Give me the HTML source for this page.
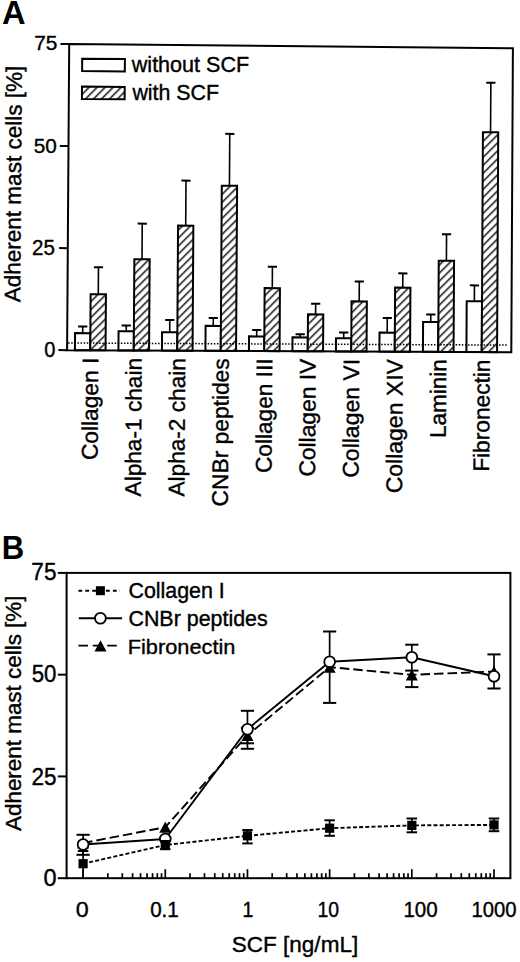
<!DOCTYPE html><html><head><meta charset="utf-8"><style>html,body{margin:0;padding:0;background:#fff;}svg{display:block;}text{font-family:"Liberation Sans",sans-serif;fill:#000;}</style></head><body>
<svg width="520" height="962" viewBox="0 0 520 962">
<defs><pattern id="h" patternUnits="userSpaceOnUse" width="8" height="8" patternTransform="translate(0.3 0.2)"><rect width="8" height="8" fill="#fff"/><path d="M-2,10 L10,-2 M-2,2 L2,-2 M6,10 L10,6" stroke="#000" stroke-width="1.4"/></pattern><clipPath id="cb"><rect x="66" y="572" width="445" height="306.2"/></clipPath></defs>
<rect width="520" height="962" fill="#fff"/>
<text transform="translate(2.124 24.410) scale(1.6321 1.6233)" font-size="20.0" font-weight="bold">A</text>
<g transform="matrix(1.00095 0.00536 -0.00704 1.00071 20.181 302.347)"><text transform="rotate(-90)" font-size="22.5" textLength="236.5" lengthAdjust="spacingAndGlyphs" stroke="#000" stroke-width="0.38">Adherent mast cells [%]</text></g>
<line x1="82.71" y1="333.10" x2="82.75" y2="326.40" stroke="#000" stroke-width="1.6" />
<line x1="78.15" y1="326.38" x2="87.36" y2="326.42" stroke="#000" stroke-width="2.0" />
<polygon points="75.05,333.06 90.36,333.14 90.25,350.25 74.93,350.18" fill="#fff" stroke="#000" stroke-width="2" stroke-linejoin="miter"/>
<line x1="98.28" y1="294.20" x2="98.47" y2="267.30" stroke="#000" stroke-width="1.6" />
<line x1="93.86" y1="267.27" x2="103.07" y2="267.33" stroke="#000" stroke-width="2.0" />
<polygon points="90.63,294.16 105.94,294.24 105.56,350.32 90.25,350.25" fill="url(#h)" stroke="#000" stroke-width="2" stroke-linejoin="miter"/>
<line x1="126.22" y1="331.30" x2="126.25" y2="325.50" stroke="#000" stroke-width="1.6" />
<line x1="121.65" y1="325.48" x2="130.86" y2="325.52" stroke="#000" stroke-width="2.0" />
<polygon points="118.56,331.26 133.87,331.34 133.75,350.45 118.43,350.38" fill="#fff" stroke="#000" stroke-width="2" stroke-linejoin="miter"/>
<line x1="142.01" y1="259.30" x2="142.24" y2="223.60" stroke="#000" stroke-width="1.6" />
<line x1="137.64" y1="223.57" x2="146.85" y2="223.63" stroke="#000" stroke-width="2.0" />
<polygon points="134.35,259.25 149.66,259.35 149.06,350.52 133.75,350.45" fill="url(#h)" stroke="#000" stroke-width="2" stroke-linejoin="miter"/>
<line x1="169.71" y1="332.30" x2="169.79" y2="320.00" stroke="#000" stroke-width="1.6" />
<line x1="165.18" y1="319.98" x2="174.39" y2="320.02" stroke="#000" stroke-width="2.0" />
<polygon points="162.05,332.26 177.36,332.34 177.25,350.65 161.93,350.58" fill="#fff" stroke="#000" stroke-width="2" stroke-linejoin="miter"/>
<line x1="185.71" y1="225.60" x2="186.00" y2="180.60" stroke="#000" stroke-width="1.6" />
<line x1="181.40" y1="180.57" x2="190.60" y2="180.63" stroke="#000" stroke-width="2.0" />
<polygon points="178.05,225.55 193.36,225.65 192.56,350.72 177.25,350.65" fill="url(#h)" stroke="#000" stroke-width="2" stroke-linejoin="miter"/>
<line x1="213.24" y1="325.90" x2="213.29" y2="318.10" stroke="#000" stroke-width="1.6" />
<line x1="208.69" y1="318.08" x2="217.90" y2="318.12" stroke="#000" stroke-width="2.0" />
<polygon points="205.59,325.86 220.90,325.94 220.74,350.85 205.43,350.78" fill="#fff" stroke="#000" stroke-width="2" stroke-linejoin="miter"/>
<line x1="229.44" y1="185.70" x2="229.77" y2="133.90" stroke="#000" stroke-width="1.6" />
<line x1="225.17" y1="133.86" x2="234.37" y2="133.94" stroke="#000" stroke-width="2.0" />
<polygon points="221.79,185.65 237.10,185.75 236.06,350.92 220.74,350.85" fill="url(#h)" stroke="#000" stroke-width="2" stroke-linejoin="miter"/>
<line x1="256.68" y1="336.40" x2="256.71" y2="330.00" stroke="#000" stroke-width="1.6" />
<line x1="252.11" y1="329.98" x2="261.32" y2="330.02" stroke="#000" stroke-width="2.0" />
<polygon points="249.02,336.36 264.33,336.44 264.24,351.05 248.93,350.98" fill="#fff" stroke="#000" stroke-width="2" stroke-linejoin="miter"/>
<line x1="272.29" y1="288.10" x2="272.42" y2="266.80" stroke="#000" stroke-width="1.6" />
<line x1="267.81" y1="266.77" x2="277.02" y2="266.83" stroke="#000" stroke-width="2.0" />
<polygon points="264.63,288.06 279.94,288.14 279.56,351.13 264.24,351.05" fill="url(#h)" stroke="#000" stroke-width="2" stroke-linejoin="miter"/>
<line x1="300.17" y1="337.40" x2="300.19" y2="334.30" stroke="#000" stroke-width="1.6" />
<line x1="295.58" y1="334.28" x2="304.79" y2="334.32" stroke="#000" stroke-width="2.0" />
<polygon points="292.51,337.36 307.83,337.44 307.74,351.26 292.43,351.18" fill="#fff" stroke="#000" stroke-width="2" stroke-linejoin="miter"/>
<line x1="315.62" y1="314.40" x2="315.69" y2="303.70" stroke="#000" stroke-width="1.6" />
<line x1="311.08" y1="303.68" x2="320.29" y2="303.72" stroke="#000" stroke-width="2.0" />
<polygon points="307.96,314.36 323.28,314.44 323.06,351.33 307.74,351.26" fill="url(#h)" stroke="#000" stroke-width="2" stroke-linejoin="miter"/>
<line x1="343.66" y1="338.30" x2="343.69" y2="332.60" stroke="#000" stroke-width="1.6" />
<line x1="339.09" y1="332.58" x2="348.30" y2="332.62" stroke="#000" stroke-width="2.0" />
<polygon points="336.00,338.26 351.32,338.34 351.24,351.46 335.92,351.39" fill="#fff" stroke="#000" stroke-width="2" stroke-linejoin="miter"/>
<line x1="359.19" y1="301.40" x2="359.31" y2="281.50" stroke="#000" stroke-width="1.6" />
<line x1="354.70" y1="281.47" x2="363.91" y2="281.53" stroke="#000" stroke-width="2.0" />
<polygon points="351.53,301.36 366.85,301.44 366.56,351.53 351.24,351.46" fill="url(#h)" stroke="#000" stroke-width="2" stroke-linejoin="miter"/>
<line x1="387.19" y1="332.60" x2="387.27" y2="317.90" stroke="#000" stroke-width="1.6" />
<line x1="382.67" y1="317.88" x2="391.88" y2="317.92" stroke="#000" stroke-width="2.0" />
<polygon points="379.53,332.56 394.85,332.64 394.74,351.66 379.42,351.59" fill="#fff" stroke="#000" stroke-width="2" stroke-linejoin="miter"/>
<line x1="402.76" y1="287.60" x2="402.84" y2="273.40" stroke="#000" stroke-width="1.6" />
<line x1="398.24" y1="273.37" x2="407.45" y2="273.43" stroke="#000" stroke-width="2.0" />
<polygon points="395.10,287.56 410.42,287.64 410.06,351.73 394.74,351.66" fill="url(#h)" stroke="#000" stroke-width="2" stroke-linejoin="miter"/>
<line x1="430.75" y1="322.00" x2="430.79" y2="314.50" stroke="#000" stroke-width="1.6" />
<line x1="426.18" y1="314.48" x2="435.39" y2="314.52" stroke="#000" stroke-width="2.0" />
<polygon points="423.09,321.96 438.40,322.04 438.24,351.86 422.92,351.79" fill="#fff" stroke="#000" stroke-width="2" stroke-linejoin="miter"/>
<line x1="446.40" y1="260.80" x2="446.55" y2="234.20" stroke="#000" stroke-width="1.6" />
<line x1="441.94" y1="234.17" x2="451.15" y2="234.23" stroke="#000" stroke-width="2.0" />
<polygon points="438.74,260.75 454.06,260.85 453.56,351.93 438.24,351.86" fill="url(#h)" stroke="#000" stroke-width="2" stroke-linejoin="miter"/>
<line x1="474.35" y1="301.20" x2="474.44" y2="285.40" stroke="#000" stroke-width="1.6" />
<line x1="469.84" y1="285.37" x2="479.04" y2="285.43" stroke="#000" stroke-width="2.0" />
<polygon points="466.70,301.16 482.01,301.24 481.74,352.06 466.42,351.99" fill="#fff" stroke="#000" stroke-width="2" stroke-linejoin="miter"/>
<line x1="490.57" y1="132.30" x2="490.84" y2="82.70" stroke="#000" stroke-width="1.6" />
<line x1="486.24" y1="82.66" x2="495.44" y2="82.74" stroke="#000" stroke-width="2.0" />
<polygon points="482.92,132.24 498.22,132.36 497.06,352.13 481.74,352.06" fill="url(#h)" stroke="#000" stroke-width="2" stroke-linejoin="miter"/>
<line x1="68.15" y1="343.00" x2="508.23" y2="345.09" stroke="#000" stroke-width="1.5" stroke-dasharray="1.5 1.6"/>
<polygon points="69.20,44.10 512.90,48.20 511.30,352.20 67.10,350.14" fill="none" stroke="#000" stroke-width="2"/>
<line x1="60.50" y1="44.02" x2="69.20" y2="44.10" stroke="#000" stroke-width="2" />
<text transform="translate(34.195 50.310) scale(1.0428 1.0269)" font-size="20.0" stroke="#000" stroke-width="0.367">75</text>
<line x1="59.80" y1="146.05" x2="68.50" y2="146.11" stroke="#000" stroke-width="2" />
<text transform="translate(33.660 152.510) scale(1.0373 1.0409)" font-size="20.0" stroke="#000" stroke-width="0.366">50</text>
<line x1="59.09" y1="248.07" x2="67.80" y2="248.13" stroke="#000" stroke-width="2" />
<text transform="translate(32.060 254.810) scale(1.0304 1.0624)" font-size="20.0" stroke="#000" stroke-width="0.363">25</text>
<line x1="58.39" y1="350.10" x2="67.10" y2="350.14" stroke="#000" stroke-width="2" />
<text transform="translate(44.288 357.310) scale(1.0021 1.0588)" font-size="20.0" stroke="#000" stroke-width="0.369">0</text>
<polygon points="82.20,58.72 124.90,59.10 124.82,71.49 82.12,71.12" fill="#fff" stroke="#000" stroke-width="2"/>
<polygon points="82.01,86.51 124.72,86.88 124.64,99.27 81.93,98.91" fill="url(#h)" stroke="#000" stroke-width="2"/>
<text transform="translate(131.790 72.410) scale(1.0779 1.0703)" font-size="20.0" stroke="#000" stroke-width="0.354">without SCF</text>
<text transform="translate(132.390 100.410) scale(1.0687 1.0772)" font-size="20.0" stroke="#000" stroke-width="0.354">with SCF</text>
<g transform="matrix(1.00115 0.00453 -0.00675 0.99953 98.206 357.741)"><text transform="rotate(-90)" font-size="22.6" text-anchor="end" textLength="102.37" lengthAdjust="spacingAndGlyphs" stroke="#000" stroke-width="0.38">Collagen I</text></g>
<g transform="matrix(1.00115 0.00453 -0.00659 0.99888 141.707 357.938)"><text transform="rotate(-90)" font-size="22.6" text-anchor="end" textLength="138.71" lengthAdjust="spacingAndGlyphs" stroke="#000" stroke-width="0.38">Alpha-1 chain</text></g>
<g transform="matrix(1.00115 0.00453 -0.00643 0.99823 185.207 358.135)"><text transform="rotate(-90)" font-size="22.6" text-anchor="end" textLength="138.71" lengthAdjust="spacingAndGlyphs" stroke="#000" stroke-width="0.38">Alpha-2 chain</text></g>
<g transform="matrix(1.00115 0.00453 -0.00627 0.99757 228.707 358.332)"><text transform="rotate(-90)" font-size="22.6" text-anchor="end" textLength="148.47" lengthAdjust="spacingAndGlyphs" stroke="#000" stroke-width="0.38">CNBr peptides</text></g>
<g transform="matrix(1.00115 0.00453 -0.00611 0.99692 272.207 358.528)"><text transform="rotate(-90)" font-size="22.6" text-anchor="end" textLength="114.83" lengthAdjust="spacingAndGlyphs" stroke="#000" stroke-width="0.38">Collagen III</text></g>
<g transform="matrix(1.00115 0.00453 -0.00595 0.99627 315.707 358.725)"><text transform="rotate(-90)" font-size="22.6" text-anchor="end" textLength="118.34" lengthAdjust="spacingAndGlyphs" stroke="#000" stroke-width="0.38">Collagen IV</text></g>
<g transform="matrix(1.00115 0.00453 -0.00579 0.99562 359.207 358.922)"><text transform="rotate(-90)" font-size="22.6" text-anchor="end" textLength="119.34" lengthAdjust="spacingAndGlyphs" stroke="#000" stroke-width="0.38">Collagen VI</text></g>
<g transform="matrix(1.00115 0.00453 -0.00563 0.99496 402.707 359.119)"><text transform="rotate(-90)" font-size="22.6" text-anchor="end" textLength="134.92" lengthAdjust="spacingAndGlyphs" stroke="#000" stroke-width="0.38">Collagen XIV</text></g>
<g transform="matrix(1.00115 0.00453 -0.00547 0.99431 446.208 359.316)"><text transform="rotate(-90)" font-size="22.6" text-anchor="end" textLength="79.15" lengthAdjust="spacingAndGlyphs" stroke="#000" stroke-width="0.38">Laminin</text></g>
<g transform="matrix(1.00115 0.00453 -0.00531 0.99366 489.708 359.513)"><text transform="rotate(-90)" font-size="22.6" text-anchor="end" textLength="113.00" lengthAdjust="spacingAndGlyphs" stroke="#000" stroke-width="0.38">Fibronectin</text></g>
<text transform="translate(1.841 559.210) scale(1.5549 1.6560)" font-size="20.0" font-weight="bold">B</text>
<text transform="translate(20.6 831) rotate(-90)" font-size="22.5" textLength="235.5" lengthAdjust="spacingAndGlyphs" stroke="#000" stroke-width="0.38">Adherent mast cells [%]</text>
<rect x="66.6" y="572.9" width="443.79999999999995" height="305.30000000000007" fill="none" stroke="#000" stroke-width="2"/>
<line x1="57.8" y1="572.90" x2="66.6" y2="572.90" stroke="#000" stroke-width="2"/>
<text transform="translate(31.355 580.410) scale(1.1287 1.1869)" font-size="20.0" stroke="#000" stroke-width="0.328">75</text>
<line x1="57.8" y1="674.67" x2="66.6" y2="674.67" stroke="#000" stroke-width="2"/>
<text transform="translate(31.650 682.310) scale(1.1123 1.1699)" font-size="20.0" stroke="#000" stroke-width="0.333">50</text>
<line x1="57.8" y1="776.43" x2="66.6" y2="776.43" stroke="#000" stroke-width="2"/>
<text transform="translate(31.414 784.710) scale(1.1260 1.1986)" font-size="20.0" stroke="#000" stroke-width="0.327">25</text>
<line x1="57.8" y1="878.20" x2="66.6" y2="878.20" stroke="#000" stroke-width="2"/>
<text transform="translate(43.450 885.810) scale(1.1749 1.1771)" font-size="20.0" stroke="#000" stroke-width="0.323">0</text>
<line x1="107.84" y1="878.2" x2="107.84" y2="873.20" stroke="#000" stroke-width="1.7"/>
<line x1="122.31" y1="878.2" x2="122.31" y2="873.20" stroke="#000" stroke-width="1.7"/>
<line x1="132.58" y1="878.2" x2="132.58" y2="873.20" stroke="#000" stroke-width="1.7"/>
<line x1="140.54" y1="878.2" x2="140.54" y2="873.20" stroke="#000" stroke-width="1.7"/>
<line x1="147.05" y1="878.2" x2="147.05" y2="873.20" stroke="#000" stroke-width="1.7"/>
<line x1="152.55" y1="878.2" x2="152.55" y2="873.20" stroke="#000" stroke-width="1.7"/>
<line x1="157.32" y1="878.2" x2="157.32" y2="873.20" stroke="#000" stroke-width="1.7"/>
<line x1="161.52" y1="878.2" x2="161.52" y2="873.20" stroke="#000" stroke-width="1.7"/>
<line x1="190.02" y1="878.2" x2="190.02" y2="873.20" stroke="#000" stroke-width="1.7"/>
<line x1="204.49" y1="878.2" x2="204.49" y2="873.20" stroke="#000" stroke-width="1.7"/>
<line x1="214.76" y1="878.2" x2="214.76" y2="873.20" stroke="#000" stroke-width="1.7"/>
<line x1="222.72" y1="878.2" x2="222.72" y2="873.20" stroke="#000" stroke-width="1.7"/>
<line x1="229.23" y1="878.2" x2="229.23" y2="873.20" stroke="#000" stroke-width="1.7"/>
<line x1="234.73" y1="878.2" x2="234.73" y2="873.20" stroke="#000" stroke-width="1.7"/>
<line x1="239.50" y1="878.2" x2="239.50" y2="873.20" stroke="#000" stroke-width="1.7"/>
<line x1="243.70" y1="878.2" x2="243.70" y2="873.20" stroke="#000" stroke-width="1.7"/>
<line x1="272.20" y1="878.2" x2="272.20" y2="873.20" stroke="#000" stroke-width="1.7"/>
<line x1="286.67" y1="878.2" x2="286.67" y2="873.20" stroke="#000" stroke-width="1.7"/>
<line x1="296.94" y1="878.2" x2="296.94" y2="873.20" stroke="#000" stroke-width="1.7"/>
<line x1="304.90" y1="878.2" x2="304.90" y2="873.20" stroke="#000" stroke-width="1.7"/>
<line x1="311.41" y1="878.2" x2="311.41" y2="873.20" stroke="#000" stroke-width="1.7"/>
<line x1="316.91" y1="878.2" x2="316.91" y2="873.20" stroke="#000" stroke-width="1.7"/>
<line x1="321.68" y1="878.2" x2="321.68" y2="873.20" stroke="#000" stroke-width="1.7"/>
<line x1="325.88" y1="878.2" x2="325.88" y2="873.20" stroke="#000" stroke-width="1.7"/>
<line x1="354.38" y1="878.2" x2="354.38" y2="873.20" stroke="#000" stroke-width="1.7"/>
<line x1="368.85" y1="878.2" x2="368.85" y2="873.20" stroke="#000" stroke-width="1.7"/>
<line x1="379.12" y1="878.2" x2="379.12" y2="873.20" stroke="#000" stroke-width="1.7"/>
<line x1="387.08" y1="878.2" x2="387.08" y2="873.20" stroke="#000" stroke-width="1.7"/>
<line x1="393.59" y1="878.2" x2="393.59" y2="873.20" stroke="#000" stroke-width="1.7"/>
<line x1="399.09" y1="878.2" x2="399.09" y2="873.20" stroke="#000" stroke-width="1.7"/>
<line x1="403.86" y1="878.2" x2="403.86" y2="873.20" stroke="#000" stroke-width="1.7"/>
<line x1="408.06" y1="878.2" x2="408.06" y2="873.20" stroke="#000" stroke-width="1.7"/>
<line x1="436.56" y1="878.2" x2="436.56" y2="873.20" stroke="#000" stroke-width="1.7"/>
<line x1="451.03" y1="878.2" x2="451.03" y2="873.20" stroke="#000" stroke-width="1.7"/>
<line x1="461.30" y1="878.2" x2="461.30" y2="873.20" stroke="#000" stroke-width="1.7"/>
<line x1="469.26" y1="878.2" x2="469.26" y2="873.20" stroke="#000" stroke-width="1.7"/>
<line x1="475.77" y1="878.2" x2="475.77" y2="873.20" stroke="#000" stroke-width="1.7"/>
<line x1="481.27" y1="878.2" x2="481.27" y2="873.20" stroke="#000" stroke-width="1.7"/>
<line x1="486.04" y1="878.2" x2="486.04" y2="873.20" stroke="#000" stroke-width="1.7"/>
<line x1="490.24" y1="878.2" x2="490.24" y2="873.20" stroke="#000" stroke-width="1.7"/>
<line x1="83.10" y1="878.2" x2="83.10" y2="869.20" stroke="#000" stroke-width="1.7"/>
<text transform="translate(75.758 917.010) scale(1.1644 1.0695)" font-size="20.0" stroke="#000" stroke-width="0.340">0</text>
<line x1="165.28" y1="878.2" x2="165.28" y2="869.20" stroke="#000" stroke-width="1.7"/>
<text transform="translate(150.166 917.010) scale(1.0296 1.0695)" font-size="20.0" stroke="#000" stroke-width="0.362">0.1</text>
<line x1="247.46" y1="878.2" x2="247.46" y2="869.20" stroke="#000" stroke-width="1.7"/>
<text transform="translate(242.530 917.210) scale(0.9734 1.1287)" font-size="20.0" stroke="#000" stroke-width="0.362">1</text>
<line x1="329.64" y1="878.2" x2="329.64" y2="869.20" stroke="#000" stroke-width="1.7"/>
<text transform="translate(317.537 917.210) scale(0.9684 1.0982)" font-size="20.0" stroke="#000" stroke-width="0.368">10</text>
<line x1="411.82" y1="878.2" x2="411.82" y2="869.20" stroke="#000" stroke-width="1.7"/>
<text transform="translate(403.450 917.210) scale(1.0264 1.0982)" font-size="20.0" stroke="#000" stroke-width="0.358">100</text>
<line x1="494.00" y1="878.2" x2="494.00" y2="869.20" stroke="#000" stroke-width="1.7"/>
<text transform="translate(471.572 917.210) scale(1.0123 1.0982)" font-size="20.0" stroke="#000" stroke-width="0.360">1000</text>
<text transform="translate(231.675 952.470) scale(1.1280 1.1297)" font-size="20.0" stroke="#000" stroke-width="0.337">SCF [ng/mL]</text>
<polyline points="83.10,843.0 165.28,827.2 247.46,735.4 329.64,667.1 411.82,674.8 494.00,671.5" fill="none" stroke="#000" stroke-width="1.9" stroke-linejoin="round" stroke-dasharray="9.5 4"/>
<line x1="247.46" y1="727.9" x2="247.46" y2="743.3" stroke="#000" stroke-width="1.7" clip-path="url(#cb)"/>
<line x1="240.86" y1="727.9" x2="254.06" y2="727.9" stroke="#000" stroke-width="2"/>
<line x1="240.86" y1="743.3" x2="254.06" y2="743.3" stroke="#000" stroke-width="2"/>
<line x1="329.64" y1="631.5" x2="329.64" y2="702.9" stroke="#000" stroke-width="1.7" clip-path="url(#cb)"/>
<line x1="323.04" y1="631.5" x2="336.24" y2="631.5" stroke="#000" stroke-width="2"/>
<line x1="323.04" y1="702.9" x2="336.24" y2="702.9" stroke="#000" stroke-width="2"/>
<line x1="411.82" y1="675" x2="411.82" y2="687.1" stroke="#000" stroke-width="1.7" clip-path="url(#cb)"/>
<line x1="405.22" y1="687.1" x2="418.42" y2="687.1" stroke="#000" stroke-width="2"/>
<line x1="494.00" y1="654.4" x2="494.00" y2="688.5" stroke="#000" stroke-width="1.7" clip-path="url(#cb)"/>
<line x1="487.40" y1="654.4" x2="500.60" y2="654.4" stroke="#000" stroke-width="2"/>
<line x1="487.40" y1="688.5" x2="500.60" y2="688.5" stroke="#000" stroke-width="2"/>
<path d="M83.10,837.40 L89.10,848.60 L77.10,848.60 Z" fill="#000"/>
<path d="M165.28,821.60 L171.28,832.80 L159.28,832.80 Z" fill="#000"/>
<path d="M247.46,729.80 L253.46,741.00 L241.46,741.00 Z" fill="#000"/>
<path d="M329.64,661.50 L335.64,672.70 L323.64,672.70 Z" fill="#000"/>
<path d="M411.82,669.20 L417.82,680.40 L405.82,680.40 Z" fill="#000"/>
<path d="M494.00,665.90 L500.00,677.10 L488.00,677.10 Z" fill="#000"/>
<polyline points="83.10,844.5 165.28,839.0 247.46,729.2 329.64,661.8 411.82,657.3 494.00,676.3" fill="none" stroke="#000" stroke-width="1.9" stroke-linejoin="round" />
<line x1="83.10" y1="834.8" x2="83.10" y2="854.8" stroke="#000" stroke-width="1.7" clip-path="url(#cb)"/>
<line x1="76.50" y1="834.8" x2="89.70" y2="834.8" stroke="#000" stroke-width="2"/>
<line x1="76.50" y1="854.8" x2="89.70" y2="854.8" stroke="#000" stroke-width="2"/>
<line x1="247.46" y1="710.8" x2="247.46" y2="748.8" stroke="#000" stroke-width="1.7" clip-path="url(#cb)"/>
<line x1="240.86" y1="710.8" x2="254.06" y2="710.8" stroke="#000" stroke-width="2"/>
<line x1="240.86" y1="748.8" x2="254.06" y2="748.8" stroke="#000" stroke-width="2"/>
<line x1="411.82" y1="644.7" x2="411.82" y2="670.6" stroke="#000" stroke-width="1.7" clip-path="url(#cb)"/>
<line x1="405.22" y1="644.7" x2="418.42" y2="644.7" stroke="#000" stroke-width="2"/>
<line x1="405.22" y1="670.6" x2="418.42" y2="670.6" stroke="#000" stroke-width="2"/>
<circle cx="83.10" cy="844.5" r="5.4" fill="#fff" stroke="#000" stroke-width="1.8"/>
<circle cx="165.28" cy="839.0" r="5.4" fill="#fff" stroke="#000" stroke-width="1.8"/>
<circle cx="247.46" cy="729.2" r="5.4" fill="#fff" stroke="#000" stroke-width="1.8"/>
<circle cx="329.64" cy="661.8" r="5.4" fill="#fff" stroke="#000" stroke-width="1.8"/>
<circle cx="411.82" cy="657.3" r="5.4" fill="#fff" stroke="#000" stroke-width="1.8"/>
<circle cx="494.00" cy="676.3" r="5.4" fill="#fff" stroke="#000" stroke-width="1.8"/>
<polyline points="83.10,863.7 165.28,845.0 247.46,835.8 329.64,828.2 411.82,825.4 494.00,824.9" fill="none" stroke="#000" stroke-width="1.9" stroke-linejoin="round" stroke-dasharray="4 2.2"/>
<line x1="83.10" y1="851" x2="83.10" y2="880" stroke="#000" stroke-width="1.7" clip-path="url(#cb)"/>
<line x1="77.85" y1="851" x2="88.35" y2="851" stroke="#000" stroke-width="2"/>
<line x1="165.28" y1="841" x2="165.28" y2="849.2" stroke="#000" stroke-width="1.7" clip-path="url(#cb)"/>
<line x1="160.03" y1="841" x2="170.53" y2="841" stroke="#000" stroke-width="2"/>
<line x1="160.03" y1="849.2" x2="170.53" y2="849.2" stroke="#000" stroke-width="2"/>
<line x1="247.46" y1="830" x2="247.46" y2="843.4" stroke="#000" stroke-width="1.7" clip-path="url(#cb)"/>
<line x1="242.21" y1="830" x2="252.71" y2="830" stroke="#000" stroke-width="2"/>
<line x1="242.21" y1="843.4" x2="252.71" y2="843.4" stroke="#000" stroke-width="2"/>
<line x1="329.64" y1="820.3" x2="329.64" y2="835.8" stroke="#000" stroke-width="1.7" clip-path="url(#cb)"/>
<line x1="324.39" y1="820.3" x2="334.89" y2="820.3" stroke="#000" stroke-width="2"/>
<line x1="324.39" y1="835.8" x2="334.89" y2="835.8" stroke="#000" stroke-width="2"/>
<line x1="411.82" y1="818.5" x2="411.82" y2="832.3" stroke="#000" stroke-width="1.7" clip-path="url(#cb)"/>
<line x1="406.57" y1="818.5" x2="417.07" y2="818.5" stroke="#000" stroke-width="2"/>
<line x1="406.57" y1="832.3" x2="417.07" y2="832.3" stroke="#000" stroke-width="2"/>
<line x1="494.00" y1="818.5" x2="494.00" y2="831.2" stroke="#000" stroke-width="1.7" clip-path="url(#cb)"/>
<line x1="488.75" y1="818.5" x2="499.25" y2="818.5" stroke="#000" stroke-width="2"/>
<line x1="488.75" y1="831.2" x2="499.25" y2="831.2" stroke="#000" stroke-width="2"/>
<rect x="78.50" y="859.10" width="9.2" height="9.2" fill="#000"/>
<rect x="160.68" y="840.40" width="9.2" height="9.2" fill="#000"/>
<rect x="242.86" y="831.20" width="9.2" height="9.2" fill="#000"/>
<rect x="325.04" y="823.60" width="9.2" height="9.2" fill="#000"/>
<rect x="407.22" y="820.80" width="9.2" height="9.2" fill="#000"/>
<rect x="489.40" y="820.30" width="9.2" height="9.2" fill="#000"/>
<line x1="78.4" y1="590.8" x2="120" y2="590.8" stroke="#000" stroke-width="1.9" stroke-dasharray="3.8 3.1"/>
<rect x="95.90" y="586.20" width="9.0" height="9.0" fill="#000"/>
<line x1="78.8" y1="618.2" x2="122.1" y2="618.2" stroke="#000" stroke-width="1.9"/>
<circle cx="100.40" cy="618.3" r="5.4" fill="#fff" stroke="#000" stroke-width="1.8"/>
<line x1="78.4" y1="645.6" x2="118" y2="645.6" stroke="#000" stroke-width="1.9" stroke-dasharray="9.6 4.8"/>
<path d="M100.50,640.30 L106.50,651.50 L94.50,651.50 Z" fill="#000"/>
<text transform="translate(128.419 598.370) scale(1.0713 1.0883)" font-size="20.0" stroke="#000" stroke-width="0.352">Collagen I</text>
<text transform="translate(128.419 626.170) scale(1.0714 1.0607)" font-size="20.0" stroke="#000" stroke-width="0.356">CNBr peptides</text>
<text transform="translate(127.693 653.810) scale(1.0893 1.0359)" font-size="20.0" stroke="#000" stroke-width="0.358">Fibronectin</text>
</svg></body></html>
